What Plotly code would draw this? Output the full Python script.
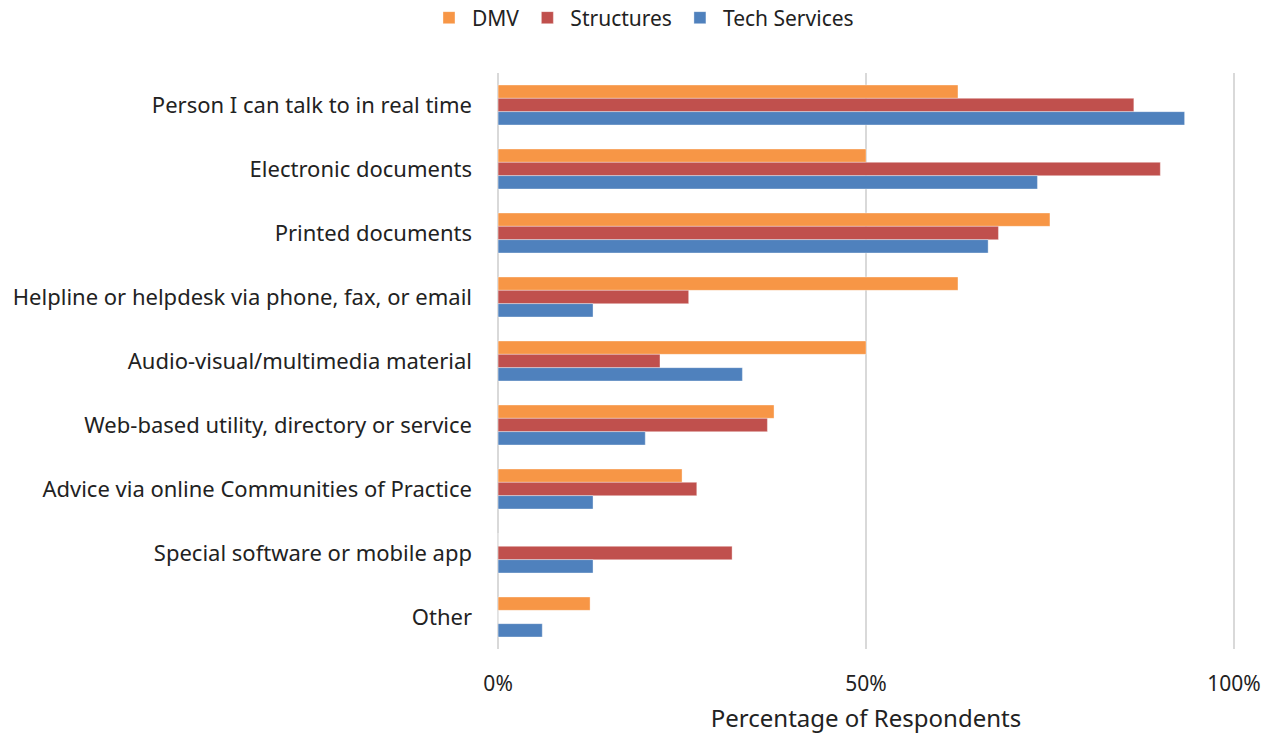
import plotly.graph_objects as go

categories = [
    "Person I can talk to in real time",
    "Electronic documents",
    "Printed documents",
    "Helpline or helpdesk via phone, fax, or email",
    "Audio-visual/multimedia material",
    "Web-based utility, directory or service",
    "Advice via online Communities of Practice",
    "Special software or mobile app",
    "Other",
]
dmv = [62.5, 50.0, 75.0, 62.5, 50.0, 37.5, 25.0, 0.0, 12.5]
structures = [86.4, 90.0, 68.0, 25.9, 22.0, 36.6, 27.0, 31.8, 0.0]
tech_services = [93.3, 73.3, 66.6, 12.9, 33.2, 20.0, 12.9, 12.9, 6.0]

series = [
    ("DMV", dmv, "#F79646"),
    ("Structures", structures, "#C0504D"),
    ("Tech Services", tech_services, "#4F81BD"),
]

fig = go.Figure()
for name, values, color in series:
    fig.add_trace(
        go.Bar(
            name=name,
            y=categories,
            x=values,
            orientation="h",
            marker=dict(color=color, line=dict(color="rgba(255,255,255,0.6)", width=0.6)),
        )
    )

fig.update_layout(
    width=1271,
    height=737,
    template="plotly_white",
    barmode="group",
    bargap=0.375,
    bargroupgap=0,
    font=dict(family="Noto Sans", size=22, color="#222222"),
    margin=dict(l=497, r=36, t=73, b=88),
    legend=dict(
        orientation="h",
        x=0.5055,
        xref="container",
        xanchor="center",
        y=0.9756,
        yref="container",
        yanchor="middle",
        font=dict(size=21),
        itemwidth=36,
        traceorder="normal",
    ),
    xaxis=dict(
        range=[-0.15, 100.15],
        tickvals=[0, 50, 100],
        ticktext=["0%", "50%", "100%"],
        tickfont=dict(size=21),
        showgrid=True,
        gridcolor="#D9D9D9",
        gridwidth=1.5,
        zeroline=False,
        showline=False,
        ticks="",
        ticklabelstandoff=20,
        automargin=False,
        title=dict(text="Percentage of Respondents", font=dict(size=24), standoff=14),
    ),
    yaxis=dict(
        autorange="reversed",
        showgrid=False,
        ticks="",
        ticklabelstandoff=24,
        automargin=False,
    ),
    plot_bgcolor="white",
    paper_bgcolor="white",
)

# drop the default body margin so the figure fills the window exactly
fig.write_html(
    "out.html",
    config={"displayModeBar": False},
    post_script="document.body.style.margin = '0';",
)
